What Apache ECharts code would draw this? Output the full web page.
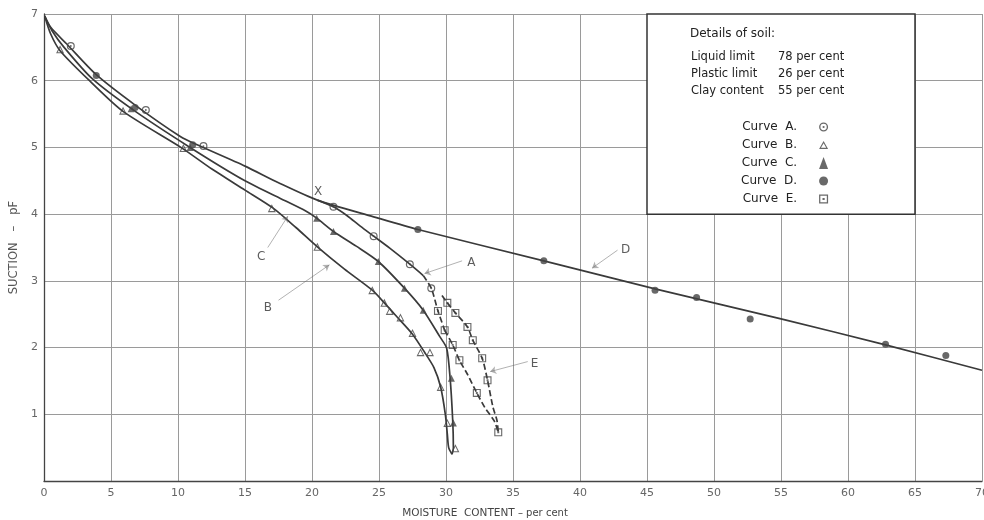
<!DOCTYPE html>
<html><head><meta charset="utf-8">
<script src="https://cdn.jsdelivr.net/npm/echarts@6/dist/echarts.min.js"></script>
<style>html,body{margin:0;padding:0;background:#fff}#c{width:984px;height:520px}</style>
</head><body><div id="c"></div>
<script>
// ---- data (moisture content %, suction pF) ----
const curveD = [[0.05,6.97],[0.5,6.8],[1.7,6.55],[3.9,6.09],[6.9,5.62],[10.2,5.16],[11.3,5.05],[15,4.72],[17.5,4.47],[20.4,4.21],[24.6,3.96],[27.9,3.77],[37.3,3.3],[45.6,2.88],[55,2.43],[62.8,2.04],[70,1.66]];
const curveA = [[20.4,4.21],[21.6,4.11],[22.6,3.98],[23.6,3.82],[24.6,3.67],[25.8,3.49],[27.3,3.25],[28.3,3.08]];
const curveADash = [[28.3,3.08],[28.9,2.89],[29.4,2.55],[29.9,2.26]];
const curveC = [[0.05,6.97],[0.6,6.75],[1.5,6.5],[3.6,6.03],[6.6,5.57],[10.9,5.0],[15,4.5],[18,4.2],[19.5,4.05],[20.35,3.94],[21.6,3.74],[23.3,3.52],[24.95,3.29],[26.9,2.89],[28.3,2.56],[29.55,2.16],[30.05,1.99],[30.3,1.56],[30.5,0.91],[30.55,0.5],[30.45,0.4]];
const curveB = [[0.05,6.97],[0.5,6.7],[1.2,6.45],[3.4,6.0],[5.9,5.54],[10.3,4.99],[12.5,4.68],[15,4.36],[17.1,4.09],[18.8,3.8],[20.4,3.51],[22.4,3.18],[24.5,2.86],[25.4,2.67],[26.3,2.47],[27.5,2.2],[28.4,1.93],[29.1,1.7],[29.6,1.41],[29.95,1.0],[30.1,0.7],[30.2,0.5],[30.45,0.4]];
const curveEOuter = [[29.7,2.78],[30.1,2.67],[30.7,2.52],[31.6,2.31],[32.0,2.11],[32.7,1.84],[33.1,1.51],[33.5,1.11],[33.8,0.91],[33.9,0.73]];
const curveEInner = [[29.9,2.26],[30.5,2.04],[31.0,1.81],[31.6,1.6],[32.3,1.32],[32.9,1.1],[33.6,0.9],[33.9,0.73]];

const pointsA = [[2.0,6.52],[7.6,5.56],[11.9,5.02],[21.6,4.11],[24.6,3.67],[27.3,3.25],[28.9,2.89]];
const pointsB = [[1.2,6.47],[5.9,5.55],[10.4,4.99],[17.0,4.09],[20.4,3.51],[24.5,2.86],[25.4,2.67],[25.8,2.55],[26.6,2.45],[27.5,2.22],[28.1,1.93],[28.8,1.93],[29.6,1.41],[30.1,0.87],[30.7,0.49]];
const pointsC = [[6.5,5.58],[10.9,5.0],[20.35,3.94],[21.6,3.74],[24.95,3.29],[26.9,2.89],[28.3,2.56],[30.4,1.54],[30.55,0.87]];
const pointsD = [[3.9,6.08],[6.8,5.6],[11.1,5.04],[27.9,3.77],[37.3,3.3],[45.6,2.86],[48.7,2.75],[52.7,2.43],[62.8,2.05],[67.3,1.88]];
const pointsE = [[29.4,2.55],[29.9,2.26],[30.1,2.67],[30.7,2.52],[31.6,2.31],[32.0,2.11],[30.5,2.04],[31.0,1.81],[32.7,1.84],[33.1,1.51],[32.3,1.32],[33.9,0.73]];

const curveNames = ['A','B','C','D','E'];
const soilLines = [['Liquid limit','78 per cent'],['Plastic limit','26 per cent'],['Clay content','55 per cent']];
const labelNames = ['X','A','B','C','D','E'];
const labelPos = [[20.45,4.34],[31.9,3.27],[16.7,2.59],[16.2,3.36],[43.4,3.46],[36.6,1.76]];
const pointers = [[[31.2,3.3],[28.4,3.11]],[[17.5,2.71],[21.3,3.24]],[[16.7,3.5],[18.2,3.97]],[[42.8,3.46],[40.9,3.19]],[[36.1,1.79],[33.3,1.64]]];

// ---- styles ----
const INK = '#3a3a3a';
const FONT = 'DejaVu Sans';
const ringDot = 'path://M0,-5A5,5 0 1,1 0,5A5,5 0 1,1 0,-5ZM0,-3.5A3.5,3.5 0 1,0 0,3.5A3.5,3.5 0 1,0 0,-3.5ZM0,-1.2A1.2,1.2 0 1,1 0,1.2A1.2,1.2 0 1,1 0,-1.2Z';
const sqDot = 'path://M-5,-5L5,-5L5,5L-5,5ZM-3.6,-3.6L-3.6,3.6L3.6,3.6L3.6,-3.6ZM-1.2,-1.2L1.2,-1.2L1.2,1.2L-1.2,1.2Z';
const openTri = 'path://M0,-5L5.5,4.5L-5.5,4.5ZM0,-2.3L-3.2,3.1L3.2,3.1Z';
const symbols = {A: ringDot, B: openTri, C: 'triangle', D: 'circle', E: sqDot};
const pointSets = {A: pointsA, B: pointsB, C: pointsC, D: pointsD, E: pointsE};

function lineSeries(name, data, dashed, extra) {
  return Object.assign({
    name: name, type: 'line', data: data, showSymbol: false, smooth: 0.25,
    lineStyle: {color: INK, width: 1.7, type: dashed ? [6,3] : 'solid'},
    z: 2, silent: true, animation: false
  }, extra || {});
}

const series = [
  lineSeries('lineD', curveD, false, {
    markArea: {silent: true, itemStyle: {color: '#fff', borderColor: '#333', borderWidth: 1.5, opacity: 1},
      data: [[{coord: [45, 7]}, {coord: [65, 4]}]]}
  }),
  lineSeries('lineA', curveA, false),
  lineSeries('lineA2', curveADash, true),
  lineSeries('lineC', curveC, false),
  lineSeries('lineB', curveB, false),
  lineSeries('lineE1', curveEOuter, true),
  lineSeries('lineE2', curveEInner, true)
];
curveNames.forEach(n => {
  series.push({
    name: n, type: 'scatter', data: pointSets[n], symbol: symbols[n],
    symbolSize: (n === 'C' || n === 'D') ? 7 : 8,
    itemStyle: {color: '#444'}, z: 3, silent: true
  });
});
series.push({
  name: 'pointers', type: 'lines', coordinateSystem: 'cartesian2d',
  data: pointers.map(p => ({coords: p})),
  lineStyle: {color: '#666', width: 1}, symbol: ['none', 'arrow'], symbolSize: 6, z: 3, silent: true
});
series.push({
  name: 'labels', type: 'scatter', symbolSize: 0, z: 4, silent: true,
  data: labelNames.map((n, i) => ({name: n, value: labelPos[i]})),
  label: {show: true, position: 'inside', formatter: '{b}', color: '#333', fontSize: 12, fontFamily: FONT}
});

const graphics = [{
  type: 'text', left: 690, top: 28, z: 100,
  style: {text: 'Details of soil:', font: '12px "' + FONT + '"', fill: '#222'}
}];
soilLines.forEach((r, i) => {
  graphics.push({
    type: 'text', left: 691, top: 51 + i * 17, z: 100,
    style: {text: '{a|' + r[0] + '}{b|' + r[1] + '}', fill: '#222', font: '11.5px "' + FONT + '"',
      rich: {a: {width: 87, fontSize: 11.5, fontFamily: FONT}, b: {fontSize: 11.5, fontFamily: FONT}}}
  });
});

const chart = echarts.init(document.getElementById('c'), null, {renderer: 'canvas'});
chart.setOption({
  backgroundColor: '#fff',
  animation: false,
  grid: {left: 44, right: 2, top: 14, bottom: 39, containLabel: false, outerBoundsMode: 'none'},
  xAxis: {
    type: 'value', min: 0, max: 70, interval: 5,
    axisLine: {lineStyle: {color: '#444', width: 1.3}},
    axisTick: {show: false},
    splitLine: {lineStyle: {color: '#9a9a9a', width: 1}},
    axisLabel: {color: '#666', fontSize: 11, margin: 7, fontFamily: FONT},
    name: '{a|MOISTURE  CONTENT}{b| – per cent}', nameLocation: 'middle', nameGap: 27,
    nameTextStyle: {padding: [0, 56, 0, 0], color: '#444',
      rich: {a: {fontSize: 10.5, fontFamily: FONT, color: '#444'}, b: {fontSize: 10, fontFamily: FONT, color: '#444'}}}
  },
  yAxis: {
    type: 'value', min: 0, max: 7, interval: 1,
    axisLine: {show: true, lineStyle: {color: '#444', width: 1.3}},
    axisTick: {show: false},
    splitLine: {lineStyle: {color: '#9a9a9a', width: 1}},
    axisLabel: {color: '#666', fontSize: 11, margin: 6, fontFamily: FONT, showMinLabel: false},
    name: 'SUCTION   –   pF', nameLocation: 'middle', nameGap: 22,
    nameTextStyle: {color: '#555', fontSize: 11.5, fontFamily: FONT}
  },
  legend: {
    orient: 'vertical', left: 736, top: 116, align: 'right', itemGap: 6,
    itemWidth: 9, itemHeight: 12, selectedMode: false,
    data: curveNames.map(n => ({name: n, icon: symbols[n]})),
    formatter: n => '{w|Curve  ' + n + '.}',
    textStyle: {color: '#222', fontSize: 12, fontFamily: FONT,
      rich: {w: {fontSize: 12, fontFamily: FONT, padding: [0, 17, 0, 0]}}}
  },
  graphic: graphics,
  series: series
});
</script></body></html>
